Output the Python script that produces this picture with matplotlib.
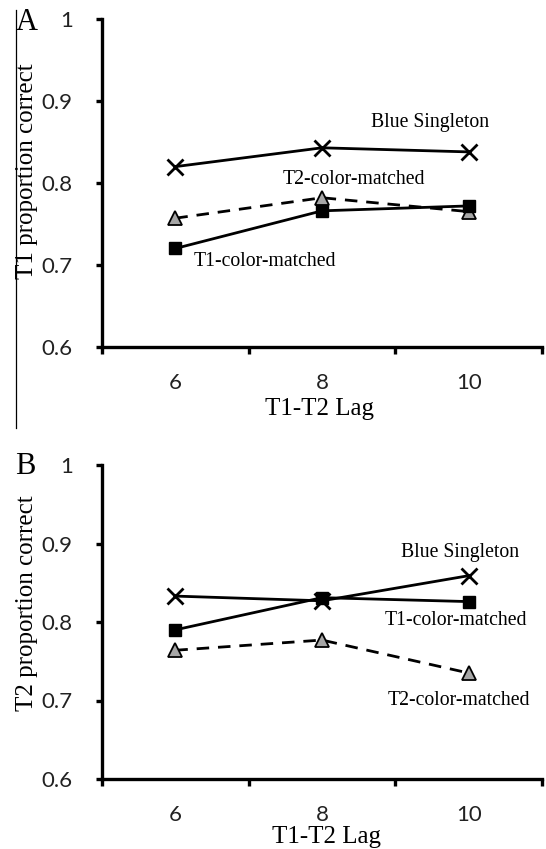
import matplotlib
matplotlib.use("Agg")
import matplotlib.pyplot as plt
from matplotlib.lines import Line2D

# T1-T2 lag (x categories)
lags = [6, 8, 10]

# Panel A: T1 proportion correct
t1_blue = [0.820, 0.843, 0.838]
t1_t1cm = [0.720, 0.766, 0.772]
t1_t2cm = [0.757, 0.782, 0.765]

# Panel B: T2 proportion correct
t2_blue = [0.833, 0.827, 0.859]
t2_t1cm = [0.790, 0.831, 0.826]
t2_t2cm = [0.764, 0.777, 0.735]

yticks = [0.6, 0.7, 0.8, 0.9, 1.0]
ytick_labels = ["0.6", "0.7", "0.8", "0.9", "1"]

serif = "Liberation Serif"
sans = "Lato"

W, H = 546, 849
fig = plt.figure(figsize=(W / 100, H / 100), dpi=100)


def draw_panel(ax, blue, t1cm, t2cm, ylabel, ylab_y, xlab_x, labels):
    # series, in Excel order
    ax.plot(lags, t2cm, color="black", lw=2.0, ls=(0, (4.5, 3.2)),
            marker="^", ms=10, mfc="#a6a6a6", mec="black", mew=1.3, zorder=3)
    ax.plot(lags, t1cm, color="black", lw=2.0, marker="s", ms=9,
            mfc="black", mec="black", zorder=4)
    ax.plot(lags, blue, color="black", lw=2.0, marker="x", ms=11,
            mew=2.0, zorder=5)

    ax.set_xlim(5, 11)
    ax.set_ylim(0.6, 1.0)
    ax.spines["top"].set_visible(False)
    ax.spines["right"].set_visible(False)
    for s in ("left", "bottom"):
        ax.spines[s].set_linewidth(2.4)
    ax.spines["left"].set_capstyle("projecting")

    # tick marks between categories, labels on categories
    ax.set_xticks([5, 7, 9, 11])
    ax.set_xticklabels([])
    ax.set_xticks(lags, minor=True)
    ax.set_xticklabels([str(v) for v in lags], minor=True,
                       fontfamily=sans, fontsize=16, color="#222222")
    ax.tick_params(axis="x", which="major", direction="out", length=5,
                   width=2.4)
    ax.tick_params(axis="x", which="minor", length=0, pad=19)

    ax.set_yticks(yticks)
    ax.set_yticklabels(ytick_labels, fontfamily=sans, fontsize=16,
                       color="#222222")
    ax.tick_params(axis="y", direction="out", length=4, width=2.4, pad=17)

    ax.set_xlabel("T1-T2 Lag", fontfamily=serif, fontsize=18, va="center")
    ax.xaxis.set_label_coords(xlab_x[0], xlab_x[1])
    ax.set_ylabel(ylabel, fontfamily=serif, fontsize=18, va="center")
    ax.yaxis.set_label_coords(-0.17, ylab_y)

    for txt, x, y in labels:
        ax.text(x, y, txt, fontfamily=serif, fontsize=14.2,
                ha="center", va="center")


axA = fig.add_axes([102 / W, 1 - 346.7 / H, 440 / W, 327.4 / H])
draw_panel(axA, t1_blue, t1_t1cm, t1_t2cm, "T1 proportion correct",
           0.537, (0.495, -0.19),
           [("Blue Singleton", 9.47, 0.8745),
            ("T2-color-matched", 8.44, 0.804),
            ("T1-color-matched", 7.22, 0.7035)])

axB = fig.add_axes([102 / W, 1 - 779 / H, 440 / W, 314 / H])
draw_panel(axB, t2_blue, t2_t1cm, t2_t2cm, "T2 proportion correct",
           0.56, (0.511, -0.185),
           [("Blue Singleton", 9.88, 0.889),
            ("T1-color-matched", 9.83, 0.8025),
            ("T2-color-matched", 9.87, 0.7006)])

# panel letters
fig.text(27 / W, 1 - 23 / H, "A", fontfamily=serif, fontsize=22,
         ha="center", va="center")
fig.text(25 / W, 1 - 467 / H, "B", fontfamily=serif, fontsize=22,
         ha="center", va="center")

# thin frame line at the left of panel A
fig.add_artist(Line2D([16 / W, 16 / W], [1 - 10 / H, 1 - 428 / H],
                      color="black", lw=0.9, transform=fig.transFigure))

fig.savefig("out.png", dpi=100)
